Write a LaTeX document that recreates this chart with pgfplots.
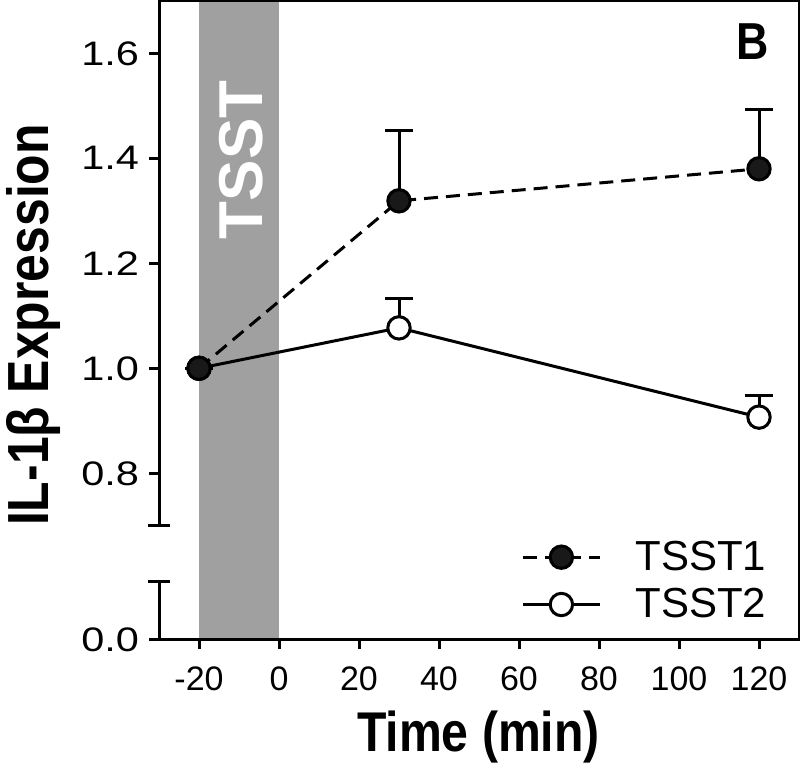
\documentclass[border=0pt]{standalone}
\usepackage{fontspec}
\setmainfont{Liberation Sans}
\newfontfamily\lblfont[FakeStretch=0.86]{Liberation Sans}
\newfontfamily\widefont[FakeStretch=1.22]{Liberation Sans}
\usepackage{pgfplots}
\pgfplotsset{compat=1.18}
\definecolor{band}{RGB}{160,160,160}
\definecolor{dot}{RGB}{25,25,25}

\pgfplotstableread{
x y e
-20 1.0 0
30 1.319 0.134
120 1.380 0.112
}\tsstone
\pgfplotstableread{
x y e
-20 1.0 0
30 1.077 0.056
120 0.907 0.042
}\tssttwo

\begin{document}
\begin{tikzpicture}
\useasboundingbox (0pt,0pt) rectangle (400pt,-387.5pt);
\pgfplotsset{
  common/.style={
    scale only axis, width=320pt,
    xmin=-30, xmax=130,
    axis line style={draw=none},
    tick align=outside, major tick length=5pt,
    tick style={line width=1.5pt, black},
    ticklabel style={font=\fontsize{17}{20}\selectfont},
    yticklabel style={font=\widefont\fontsize{17}{20}\selectfont, xshift=-1.5pt},
    xticklabel style={yshift=-5pt},
    /pgf/number format/assume math mode=true,
    clip=false,
  }
}
\begin{axis}[common,
  name=upper, at={(79.5pt,-0.4pt)}, anchor=north west,
  height=262.5pt, ymin=0.7, ymax=1.7,
  xtick=\empty,
  ytick={0.8,1.0,1.2,1.4,1.6}, yticklabels={0.8,1.0,1.2,1.4,1.6},
  ytick pos=left,
  reverse legend,
  legend cell align=left,
  legend style={at={(axis cs:59,0.687)}, anchor=north west, draw=none, fill=none,
    font=\fontsize{21}{25}\selectfont, row sep=3.5pt},
  legend image code/.code={\draw[mark repeat=2,mark phase=2,#1] plot coordinates {(0pt,0pt) (19.25pt,0pt) (38.5pt,0pt)};},
]
\fill[band] (axis cs:-20,1.7) rectangle ([yshift=-56.85pt]axis cs:0,0.7);
\node[rotate=90, text=white, font=\bfseries\fontsize{31}{36}\selectfont] at (axis cs:-9.4,1.397) {TSST};
\node[font=\lblfont\bfseries\fontsize{26}{30}\selectfont] at (axis cs:118.3,1.623) {B};

\addplot[black, line width=1.5pt, mark=*, mark size=5.6pt,
  mark options={solid, fill=white, draw=black, line width=1.5pt},
  error bars/.cd, y dir=plus, y explicit,
  error bar style={line width=1.5pt, solid},
  error mark options={rotate=90, mark size=7pt, line width=1.5pt, solid}]
  table[x=x, y=y, y error=e] {\tssttwo};
\addlegendentry{\hspace{15pt}TSST2}

\addplot[black, line width=1.5pt, dash pattern=on 7pt off 4pt, mark=*, mark size=5.6pt,
  mark options={solid, fill=dot, draw=black, line width=1.5pt},
  error bars/.cd, y dir=plus, y explicit,
  error bar style={line width=1.5pt, solid},
  error mark options={rotate=90, mark size=7pt, line width=1.5pt, solid}]
  table[x=x, y=y, y error=e] {\tsstone};
\addlegendentry{\hspace{15pt}TSST1}
\end{axis}

\begin{axis}[common,
  name=lower, at={(79.5pt,-319.75pt)}, anchor=south west,
  height=29pt, ymin=0, ymax=0.11,
  xtick={-20,0,20,40,60,80,100,120},
  xticklabels={-20,0,20,40,60,80,100,120},
  ytick={0}, yticklabels={0.0},
  xtick pos=left, ytick pos=left,
]
\end{axis}

\draw[line width=1.5pt, line join=miter] (upper.south west) -- (upper.north west) -- (upper.north east) -- (lower.south east) -- (lower.south west) -- (lower.north west);
\draw[line width=1.5pt] ([xshift=-5.5pt]upper.south west) -- ([xshift=5.5pt]upper.south west);
\draw[line width=1.5pt] ([xshift=-5.5pt]lower.north west) -- ([xshift=5.5pt]lower.north west);

\node[rotate=90, anchor=base, font=\lblfont\bfseries\fontsize{29}{33}\selectfont] at (24pt,-162.5pt) {IL-1β Expression};
\node[anchor=base, font=\lblfont\bfseries\fontsize{28}{32}\selectfont] at (239.25pt,-376pt) {Time (min)};
\end{tikzpicture}
\end{document}
